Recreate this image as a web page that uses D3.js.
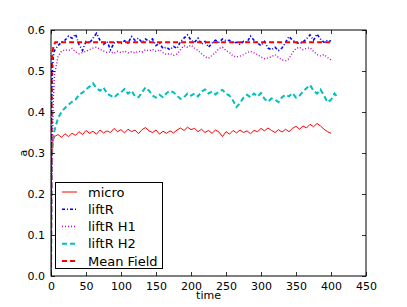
<!DOCTYPE html>
<html>
<head>
<meta charset="utf-8">
<script src="https://cdn.jsdelivr.net/npm/d3@7"></script>
<style>
  body { margin: 0; background: #fff; }
  text { font-family: "DejaVu Sans", sans-serif; }
</style>
</head>
<body>
<script>
let w = 407;
let h = 307;

// time grid: first few steps, then every 5
let time = [0, 1, 2, 3, 4, 5];
for (let t = 10; t <= 400; t += 5) time.push(t);
let timeH2 = time.concat([405, 410]);

let micro = [0, 0.30, 0.32, 0.33, 0.335, 0.34,
  0.345, 0.338, 0.347, 0.340, 0.348, 0.343, 0.352, 0.345, 0.355, 0.348,
  0.353, 0.346, 0.356, 0.349, 0.354, 0.350, 0.360, 0.352, 0.357, 0.349,
  0.358, 0.352, 0.356, 0.347, 0.357, 0.362, 0.354, 0.350, 0.356, 0.346,
  0.353, 0.348, 0.354, 0.349, 0.356, 0.361, 0.355, 0.363, 0.357, 0.360,
  0.352, 0.358, 0.350, 0.355, 0.348, 0.356, 0.351, 0.340, 0.352, 0.346,
  0.355, 0.349, 0.356, 0.350, 0.354, 0.347, 0.355, 0.352, 0.360, 0.354,
  0.361, 0.355, 0.350, 0.357, 0.351, 0.358, 0.352, 0.360, 0.365, 0.358,
  0.366, 0.361, 0.370, 0.364, 0.372, 0.366, 0.358, 0.352, 0.348];

let liftR = [0, 0.42, 0.50, 0.53, 0.545, 0.55,
  0.562, 0.570, 0.575, 0.585, 0.580, 0.590, 0.565, 0.550, 0.572, 0.568,
  0.580, 0.592, 0.575, 0.565, 0.572, 0.552, 0.568, 0.571, 0.566, 0.574,
  0.568, 0.584, 0.575, 0.580, 0.570, 0.578, 0.572, 0.578, 0.562, 0.568,
  0.555, 0.558, 0.552, 0.560, 0.555, 0.572, 0.580, 0.588, 0.575, 0.570,
  0.580, 0.565, 0.572, 0.558, 0.568, 0.575, 0.570, 0.578, 0.574, 0.575,
  0.568, 0.570, 0.565, 0.572, 0.570, 0.585, 0.575, 0.568, 0.562, 0.572,
  0.556, 0.552, 0.558, 0.550, 0.556, 0.570, 0.584, 0.575, 0.570, 0.566,
  0.571, 0.578, 0.588, 0.575, 0.590, 0.578, 0.570, 0.575, 0.573];

let liftRH1 = [0, 0.22, 0.33, 0.41, 0.46, 0.49,
  0.535, 0.548, 0.552, 0.550, 0.555, 0.547, 0.542, 0.545, 0.548, 0.552,
  0.556, 0.558, 0.553, 0.549, 0.545, 0.547, 0.543, 0.548, 0.545, 0.549,
  0.544, 0.547, 0.544, 0.548, 0.546, 0.552, 0.549, 0.553, 0.548, 0.552,
  0.545, 0.540, 0.543, 0.538, 0.541, 0.552, 0.562, 0.558, 0.563, 0.556,
  0.550, 0.542, 0.535, 0.531, 0.538, 0.545, 0.555, 0.558, 0.550, 0.545,
  0.537, 0.534, 0.536, 0.540, 0.545, 0.548, 0.544, 0.540, 0.534, 0.530,
  0.532, 0.535, 0.540, 0.533, 0.527, 0.525, 0.530, 0.545, 0.555, 0.558,
  0.552, 0.555, 0.557, 0.548, 0.540, 0.537, 0.540, 0.533, 0.527];

let liftRH2 = [0, 0.28, 0.31, 0.33, 0.345, 0.355,
  0.385, 0.400, 0.410, 0.418, 0.425, 0.430, 0.442, 0.447, 0.455, 0.462,
  0.470, 0.458, 0.452, 0.460, 0.445, 0.440, 0.435, 0.443, 0.448, 0.456,
  0.445, 0.452, 0.438, 0.436, 0.448, 0.460, 0.452, 0.440, 0.435, 0.442,
  0.436, 0.446, 0.452, 0.448, 0.440, 0.432, 0.436, 0.445, 0.440, 0.445,
  0.438, 0.450, 0.455, 0.445, 0.450, 0.443, 0.450, 0.454, 0.444, 0.440,
  0.428, 0.412, 0.422, 0.435, 0.442, 0.436, 0.445, 0.438, 0.446, 0.432,
  0.425, 0.433, 0.430, 0.424, 0.436, 0.442, 0.438, 0.446, 0.435, 0.440,
  0.450, 0.458, 0.466, 0.452, 0.445, 0.455, 0.440, 0.424, 0.430, 0.445, 0.435];

let meanTime = [0, 1, 2, 3, 4, 5, 6, 400];
let meanField = [0, 0.50, 0.54, 0.555, 0.562, 0.566, 0.57, 0.57];

let xTicks = [0, 50, 100, 150, 200, 250, 300, 350, 400, 450];
let yTicks = [0.0, 0.1, 0.2, 0.3, 0.4, 0.5, 0.6];

let series = [
  {name: "micro", t: time, v: micro, color: "#ff0000", width: 1, dash: null},
  {name: "liftR", t: time, v: liftR, color: "#0000ff", width: 1.6, dash: "3,2,1,2"},
  {name: "liftR H1", t: time, v: liftRH1, color: "#bf00bf", width: 1.4, dash: "1,2"},
  {name: "liftR H2", t: timeH2, v: liftRH2, color: "#00bfbf", width: 2, dash: "5,3"},
  {name: "Mean Field", t: meanTime, v: meanField, color: "#ff0000", width: 2, dash: "5,3"}
];

let pLeft = 51, pRight = 366, pTop = 30, pBottom = 276;

let xScale = d3.scaleLinear().domain([0, 450]).range([pLeft, pRight]);
let yScale = d3.scaleLinear().domain([0, 0.6]).range([pBottom, pTop]);

let svg = d3.select("body")
  .append("svg")
  .attr("width", w)
  .attr("height", h);

svg.append("defs").append("clipPath").attr("id", "clip")
  .append("rect")
  .attr("x", pLeft).attr("y", pTop)
  .attr("width", pRight - pLeft).attr("height", pBottom - pTop);

let line = d3.line()
  .x(d => xScale(d[0]))
  .y(d => yScale(d[1]));

let plot = svg.append("g").attr("clip-path", "url(#clip)");

series.forEach(s => {
  plot.append("path")
    .datum(s.t.map((t, i) => [t, s.v[i]]))
    .attr("d", line)
    .attr("fill", "none")
    .attr("stroke", s.color)
    .attr("stroke-width", s.width)
    .attr("stroke-dasharray", s.dash);
});

// axes, ticks inside on all four sides
let tickLen = 4;
let xAxisB = d3.axisBottom(xScale).tickValues(xTicks).tickSizeInner(-tickLen).tickSizeOuter(0).tickPadding(6);
let xAxisT = d3.axisTop(xScale).tickValues(xTicks).tickSizeInner(-tickLen).tickSizeOuter(0).tickFormat("");
let yAxisL = d3.axisLeft(yScale).tickValues(yTicks).tickSizeInner(-tickLen).tickSizeOuter(0).tickPadding(6).tickFormat(d3.format(".1f"));
let yAxisR = d3.axisRight(yScale).tickValues(yTicks).tickSizeInner(-tickLen).tickSizeOuter(0).tickFormat("");

svg.append("g").attr("transform", `translate(0,${pBottom})`).call(xAxisB);
svg.append("g").attr("transform", `translate(0,${pTop})`).call(xAxisT);
svg.append("g").attr("transform", `translate(${pLeft},0)`).call(yAxisL);
svg.append("g").attr("transform", `translate(${pRight},0)`).call(yAxisR);

svg.selectAll(".domain").remove();
svg.selectAll(".tick line").attr("stroke", "#000").attr("stroke-width", 0.8);
svg.selectAll(".tick text")
  .attr("font-family", "DejaVu Sans, sans-serif")
  .attr("font-size", "11px")
  .attr("fill", "#000");

svg.append("rect")
  .attr("x", pLeft).attr("y", pTop)
  .attr("width", pRight - pLeft).attr("height", pBottom - pTop)
  .attr("fill", "none")
  .attr("stroke", "#000")
  .attr("stroke-width", 1);

svg.append("text")
  .text("time")
  .attr("x", (pLeft + pRight) / 2)
  .attr("y", 299)
  .attr("text-anchor", "middle")
  .attr("font-size", "11px");

svg.append("text")
  .text("a")
  .attr("transform", `translate(27,${(pTop + pBottom) / 2}) rotate(-90)`)
  .attr("text-anchor", "middle")
  .attr("font-size", "11px");

// legend
let legend = svg.append("g");
legend.append("rect")
  .attr("x", 55.5).attr("y", 182.5)
  .attr("width", 107).attr("height", 86)
  .attr("fill", "#fff")
  .attr("stroke", "#000")
  .attr("stroke-width", 1);

series.forEach((s, i) => {
  let y = 192 + i * 17.25;
  legend.append("line")
    .attr("x1", 62).attr("x2", 77)
    .attr("y1", y).attr("y2", y)
    .attr("stroke", s.color)
    .attr("stroke-width", s.width)
    .attr("stroke-dasharray", s.dash);
  legend.append("text")
    .text(s.name)
    .attr("x", 88)
    .attr("y", y)
    .attr("dy", "0.36em")
    .attr("font-size", "13px");
});
</script>
</body>
</html>
